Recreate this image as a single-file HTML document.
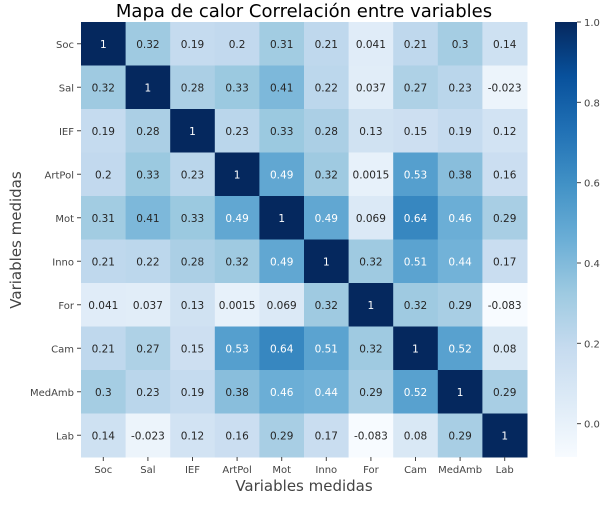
<!DOCTYPE html>
<html><head><meta charset="utf-8"><style>
body{margin:0;background:#fff;}
svg text{font-family:"DejaVu Sans","Liberation Sans",sans-serif;}
</style></head><body>
<svg id="c" width="609" height="502" xmlns="http://www.w3.org/2000/svg">
<defs><linearGradient id="cb" x1="0" y1="1" x2="0" y2="0">
<stop offset="0" stop-color="#f7fbff"/><stop offset="0.125" stop-color="#deebf7"/><stop offset="0.25" stop-color="#c6dbef"/><stop offset="0.375" stop-color="#9ecae1"/><stop offset="0.5" stop-color="#6baed6"/><stop offset="0.625" stop-color="#4292c6"/><stop offset="0.75" stop-color="#2171b5"/><stop offset="0.875" stop-color="#08519c"/><stop offset="1" stop-color="#05285e"/>
</linearGradient></defs>
<text x="304" y="17" font-size="18" text-anchor="middle" fill="#000">Mapa de calor Correlación entre variables</text>
<text transform="translate(21,240) rotate(-90)" font-size="15" text-anchor="middle" fill="#444">Variables medidas</text>
<text x="304" y="491" font-size="15" text-anchor="middle" fill="#444">Variables medidas</text>
<g id="cells"></g>
<rect x="555" y="22" width="22" height="435" fill="url(#cb)"/>
<g id="cbt"></g>
</svg>
<script>
const labels=["Soc","Sal","IEF","ArtPol","Mot","Inno","For","Cam","MedAmb","Lab"];
const rSoc=[1,0.32,0.19,0.2,0.31,0.21,0.041,0.21,0.3,0.14];
const rSal=[0.32,1,0.28,0.33,0.41,0.22,0.037,0.27,0.23,-0.023];
const rIEF=[0.19,0.28,1,0.23,0.33,0.28,0.13,0.15,0.19,0.12];
const rArtPol=[0.2,0.33,0.23,1,0.49,0.32,0.0015,0.53,0.38,0.16];
const rMot=[0.31,0.41,0.33,0.49,1,0.49,0.069,0.64,0.46,0.29];
const rInno=[0.21,0.22,0.28,0.32,0.49,1,0.32,0.51,0.44,0.17];
const rFor=[0.041,0.037,0.13,0.0015,0.069,0.32,1,0.32,0.29,-0.083];
const rCam=[0.21,0.27,0.15,0.53,0.64,0.51,0.32,1,0.52,0.08];
const rMedAmb=[0.3,0.23,0.19,0.38,0.46,0.44,0.29,0.52,1,0.29];
const rLab=[0.14,-0.023,0.12,0.16,0.29,0.17,-0.083,0.08,0.29,1];
const cbTicks=[0,0.2,0.4,0.6,0.8,1.0];
const matrix=[rSoc,rSal,rIEF,rArtPol,rMot,rInno,rFor,rCam,rMedAmb,rLab];
const vmin=-0.083,vmax=1;
const L=81,R=527,T=22,B=457;
const n=labels.length,cw=(R-L)/n,ch=(B-T)/n;
const xs=i=>L+i*cw, ys=j=>T+j*ch;
const cy=v=>B-(v-vmin)/(vmax-vmin)*(B-T);
const stops=["#f7fbff","#deebf7","#c6dbef","#9ecae1","#6baed6","#4292c6","#2171b5","#08519c","#05285e"].map(h=>[1,3,5].map(k=>parseInt(h.substr(k,2),16)));
function color(v){let t=Math.max(0,Math.min(1,(v-vmin)/(vmax-vmin)))*8;let i=Math.min(7,Math.floor(t)),f=t-i;
const c=stops[i].map((a,k)=>Math.round(a+(stops[i+1][k]-a)*f));return `rgb(${c})`;}
const NS="http://www.w3.org/2000/svg";
const g=document.getElementById('cells');
function el(tag,attrs,p){const e=document.createElementNS(NS,tag);for(const k in attrs)e.setAttribute(k,attrs[k]);p.appendChild(e);return e;}
matrix.forEach((row,j)=>row.forEach((v,i)=>{
 const r=el('rect',{x:xs(i),y:ys(j),width:cw+0.5,height:ch+0.5,fill:color(v)},g);
 
 
 const t=el('text',{x:xs(i)+cw/2,y:ys(j)+ch/2+4,'font-size':10.5,'text-anchor':'middle',fill:v>0.42?'#fff':'#262626'},g);
 t.textContent=String(v);
 
 
}));
labels.forEach((lb,i)=>{
 const t=el('text',{x:xs(i)+cw/2,y:B+16,'font-size':10,'text-anchor':'middle',fill:'#444'},g);t.textContent=lb;
 
 
 el('line',{x1:xs(i)+cw/2,x2:xs(i)+cw/2,y1:B,y2:B+4,stroke:'#444'},g);
 const u=el('text',{x:L-7,y:ys(i)+ch/2+4,'font-size':10,'text-anchor':'end',fill:'#444'},g);u.textContent=lb;
 
 
 el('line',{x1:L-4,x2:L,y1:ys(i)+ch/2,y2:ys(i)+ch/2,stroke:'#444'},g);
});
const cg=document.getElementById('cbt');
cbTicks.forEach(v=>{const y=cy(v);
 el('line',{x1:577,x2:581,y1:y,y2:y,stroke:'#444'},cg);
 const t=el('text',{x:584,y:y+4,'font-size':10,fill:'#444'},cg);t.textContent=v.toFixed(1);
 
 
});
</script>
</body></html>
